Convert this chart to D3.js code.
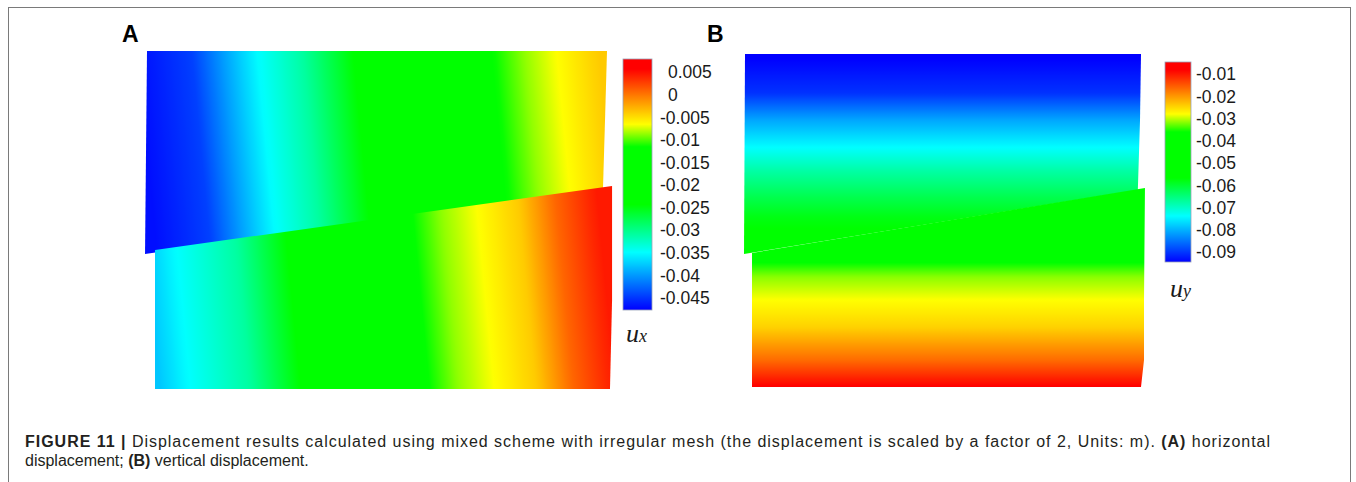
<!DOCTYPE html>
<html>
<head>
<meta charset="utf-8">
<script src="https://cdn.jsdelivr.net/npm/d3@7"></script>
<style>
  body { margin: 0; background: #fff; }
  svg { display: block; }
</style>
</head>
<body>
<div id="chart"></div>
<script>
// figure size
const width = 1356;
const height = 482;

// colour map: position along the colour bar (0 = min, 1 = max) -> colour
const cmapPos = [0, 0.23, 0.42, 0.65, 0.74, 0.96, 1];
const cmapColors = ["#0000ff", "#00ffff", "#00ff00", "#00ff00", "#ffff00", "#ff0000", "#ff0000"];

// colour bar ranges + tick labels (m)
const uxRange = [-0.0477, 0.0079];
const uxTicks = [0.005, 0, -0.005, -0.01, -0.015, -0.02, -0.025, -0.03, -0.035, -0.04, -0.045];
const uyRange = [-0.0945, -0.0046];
const uyTicks = [-0.01, -0.02, -0.03, -0.04, -0.05, -0.06, -0.07, -0.08, -0.09];

// deformed block outlines (model units, m)
const aUpperShape = [[0, 7.348], [10, 7.348], [9.957, 5.848], [9.913, 4.37], [-0.043, 2.935]];
const aLowerShape = [[0.174, 3.022], [10.11, 4.413], [10.11, 1.935], [10.065, 0], [0.174, 0]];
const bUpperShape = [[0, 8.41], [10, 8.41], [9.975, 6.74], [9.92, 4.975], [-0.025, 3.36]];
const bLowerShape = [[0.177, 3.384], [10.1, 5.025], [10.076, 2.197], [10.076, 0.68], [10.0, 0], [0.177, 0]];

// panel A: ux sampled along x in each block
const aUpperX  = [-0.02, 1.15, 2.02, 2.57, 3.54, 4.63, 6.59, 7.67, 8.33, 9.02, 9.96];
const aUpperUx = [-0.0470, -0.0445, -0.0385, -0.0350, -0.0310, -0.0244, -0.018, -0.0116, -0.0088, -0.0066, -0.0040];
const aLowerX  = [0.15, 0.76, 2.09, 3.17, 5.96, 6.59, 7.37, 8.30, 9.07, 10.0];
const aLowerUx = [-0.0377, -0.035, -0.031, -0.0244, -0.0116, -0.0088, -0.0066, -0.004, 0.0007, 0.0045];

// panel B: uy sampled along y in each block
const bUpperY  = [8.41, 7.42, 6.74, 6.16, 5.48, 4.80, 4.29, 3.36];
const bUpperUy = [-0.095, -0.0905, -0.081, -0.075, -0.068, -0.062, -0.058, -0.054];
const bLowerY  = [5.03, 3.64, 3.13, 2.78, 2.20, 1.52, 0.68, 0];
const bLowerUy = [-0.052, -0.045, -0.036, -0.0317, -0.028, -0.0245, -0.0165, -0.008];

// caption
const captionLine1 = [
  {t: "FIGURE 11 | ", b: true},
  {t: "Displacement results calculated using mixed scheme with irregular mesh (the displacement is scaled by a factor of 2, Units: m). ", b: false},
  {t: "(A)", b: true},
  {t: " horizontal", b: false}
];
const captionLine2 = [
  {t: "displacement; ", b: false},
  {t: "(B)", b: true},
  {t: " vertical displacement.", b: false}
];

const svg = d3.select("#chart")
  .append("svg")
  .attr("width", width)
  .attr("height", height);

const defs = svg.append("defs");

// outer frame
svg.append("rect")
  .attr("x", 8.5).attr("y", 7.5)
  .attr("width", 1342).attr("height", 490)
  .attr("fill", "none")
  .attr("stroke", "#7a7a7a")
  .attr("stroke-width", 1);

// build a colour scale for a given value range
function makeColor(range) {
  return d3.scaleLinear()
    .domain(cmapPos.map(p => range[0] + p * (range[1] - range[0])))
    .range(cmapColors)
    .clamp(true);
}

// gradient for a block: value sampled along one axis, mapped to pixels
function blockGradient(id, horiz, pos, vals, pixScale, color, tilt, cx, cy) {
  const field = d3.scaleLinear().domain(pos).range(vals);
  const p0 = pixScale(d3.min(pos)), p1 = pixScale(d3.max(pos));
  const g = defs.append("linearGradient")
    .attr("id", id)
    .attr("gradientUnits", "userSpaceOnUse");
  if (horiz) {
    g.attr("x1", p0).attr("x2", p1).attr("y1", cy).attr("y2", cy);
  } else {
    g.attr("x1", cx).attr("x2", cx).attr("y1", p0).attr("y2", p1);
  }
  if (tilt) g.attr("gradientTransform", `rotate(${tilt},${cx},${cy})`);
  const lo = d3.min(pos), hi = d3.max(pos);
  const n = 120;
  d3.range(n + 1).forEach(i => {
    const m = lo + (hi - lo) * i / n;
    g.append("stop")
      .attr("offset", i / n)
      .attr("stop-color", color(field(m)));
  });
}

// colour bar + labels
function colorBar(id, range, ticks, color, x0, x1, y0, y1, labelX, minusX) {
  const yScale = d3.scaleLinear().domain(range).range([y1, y0]);
  const g = defs.append("linearGradient")
    .attr("id", id)
    .attr("x1", 0).attr("x2", 0).attr("y1", 1).attr("y2", 0);
  const n = 100;
  d3.range(n + 1).forEach(i => {
    g.append("stop")
      .attr("offset", i / n)
      .attr("stop-color", color(range[0] + (range[1] - range[0]) * i / n));
  });
  svg.append("rect")
    .attr("x", x0).attr("y", yScale(range[1]))
    .attr("width", x1 - x0)
    .attr("height", yScale(range[0]) - yScale(range[1]))
    .attr("fill", `url(#${id})`)
    .attr("stroke", "#9aa2b8")
    .attr("stroke-width", 0.8);
  svg.append("g")
    .selectAll("text")
    .data(ticks)
    .join("text")
      .attr("x", d => d < 0 ? minusX : labelX)
      .attr("y", d => yScale(d))
      .attr("dy", "0.36em")
      .attr("font-family", "'Liberation Sans', Arial, sans-serif")
      .attr("font-size", 17.5)
      .attr("fill", "#1a1a1a")
      .text(d => String(d));
}

function blockPath(shape, xs, ys) {
  return d3.line().x(d => xs(d[0])).y(d => ys(d[1]))(shape) + "Z";
}

/* Panel A: horizontal displacement */
const xA = d3.scaleLinear().domain([0, 10]).range([147, 607]);
const yA = d3.scaleLinear().domain([0, 7.348]).range([389, 51]);
const colorA = makeColor(uxRange);

blockGradient("aUp", true, aUpperX, aUpperUx, xA, colorA, -5.5, 377, 127);
blockGradient("aLo", true, aLowerX, aLowerUx, xA, colorA, -5.5, 382, 310);

svg.append("path").attr("d", blockPath(aUpperShape, xA, yA)).attr("fill", "url(#aUp)");
svg.append("path").attr("d", blockPath(aLowerShape, xA, yA)).attr("fill", "url(#aLo)");

colorBar("cbA", uxRange, uxTicks, colorA, 623, 652, 59, 310, 668, 660);

svg.append("text")
  .attr("x", 122).attr("y", 42)
  .attr("font-family", "'Liberation Sans', Arial, sans-serif")
  .attr("font-weight", "bold").attr("font-size", 23)
  .text("A");

const uxLabel = svg.append("text")
  .attr("x", 626).attr("y", 342)
  .attr("font-family", "'Liberation Serif', 'Times New Roman', serif")
  .attr("font-style", "italic").attr("fill", "#1a1a1a");
uxLabel.append("tspan").attr("font-size", 26).text("u");
uxLabel.append("tspan").attr("font-size", 18).text("x");

/* Panel B: vertical displacement */
const xB = d3.scaleLinear().domain([0, 10]).range([745, 1141]);
const yB = d3.scaleLinear().domain([0, 8.41]).range([387, 54]);
const colorB = makeColor(uyRange);

blockGradient("bUp", false, bUpperY, bUpperUy, yB, colorB, 0, 943, 150);
blockGradient("bLo", false, bLowerY, bLowerUy, yB, colorB, 0, 948, 300);

svg.append("path").attr("d", blockPath(bUpperShape, xB, yB)).attr("fill", "url(#bUp)");
svg.append("path").attr("d", blockPath(bLowerShape, xB, yB)).attr("fill", "url(#bLo)");

colorBar("cbB", uyRange, uyTicks, colorB, 1165, 1191, 62, 262, 1204, 1196);

svg.append("text")
  .attr("x", 707).attr("y", 42)
  .attr("font-family", "'Liberation Sans', Arial, sans-serif")
  .attr("font-weight", "bold").attr("font-size", 23)
  .text("B");

const uyLabel = svg.append("text")
  .attr("x", 1170).attr("y", 297)
  .attr("font-family", "'Liberation Serif', 'Times New Roman', serif")
  .attr("font-style", "italic").attr("fill", "#1a1a1a");
uyLabel.append("tspan").attr("font-size", 26).text("u");
uyLabel.append("tspan").attr("font-size", 18).text("y");

/* Caption */
function captionLine(parts, y, target) {
  const t = svg.append("text")
    .attr("x", 25).attr("y", y)
    .attr("font-family", "'Liberation Sans', Arial, sans-serif")
    .attr("font-size", 16)
    .attr("fill", "#231f20")
    .attr("xml:space", "preserve");
  parts.forEach(p => {
    t.append("tspan")
      .attr("font-weight", p.b ? "bold" : "normal")
      .text(p.t);
  });
  if (target) {
    // justified line: stretch to the column width
    t.attr("textLength", target).attr("lengthAdjust", "spacing");
  }
  return t;
}
captionLine(captionLine1, 447, 1245);
captionLine(captionLine2, 465.5, null);
</script>
</body>
</html>
